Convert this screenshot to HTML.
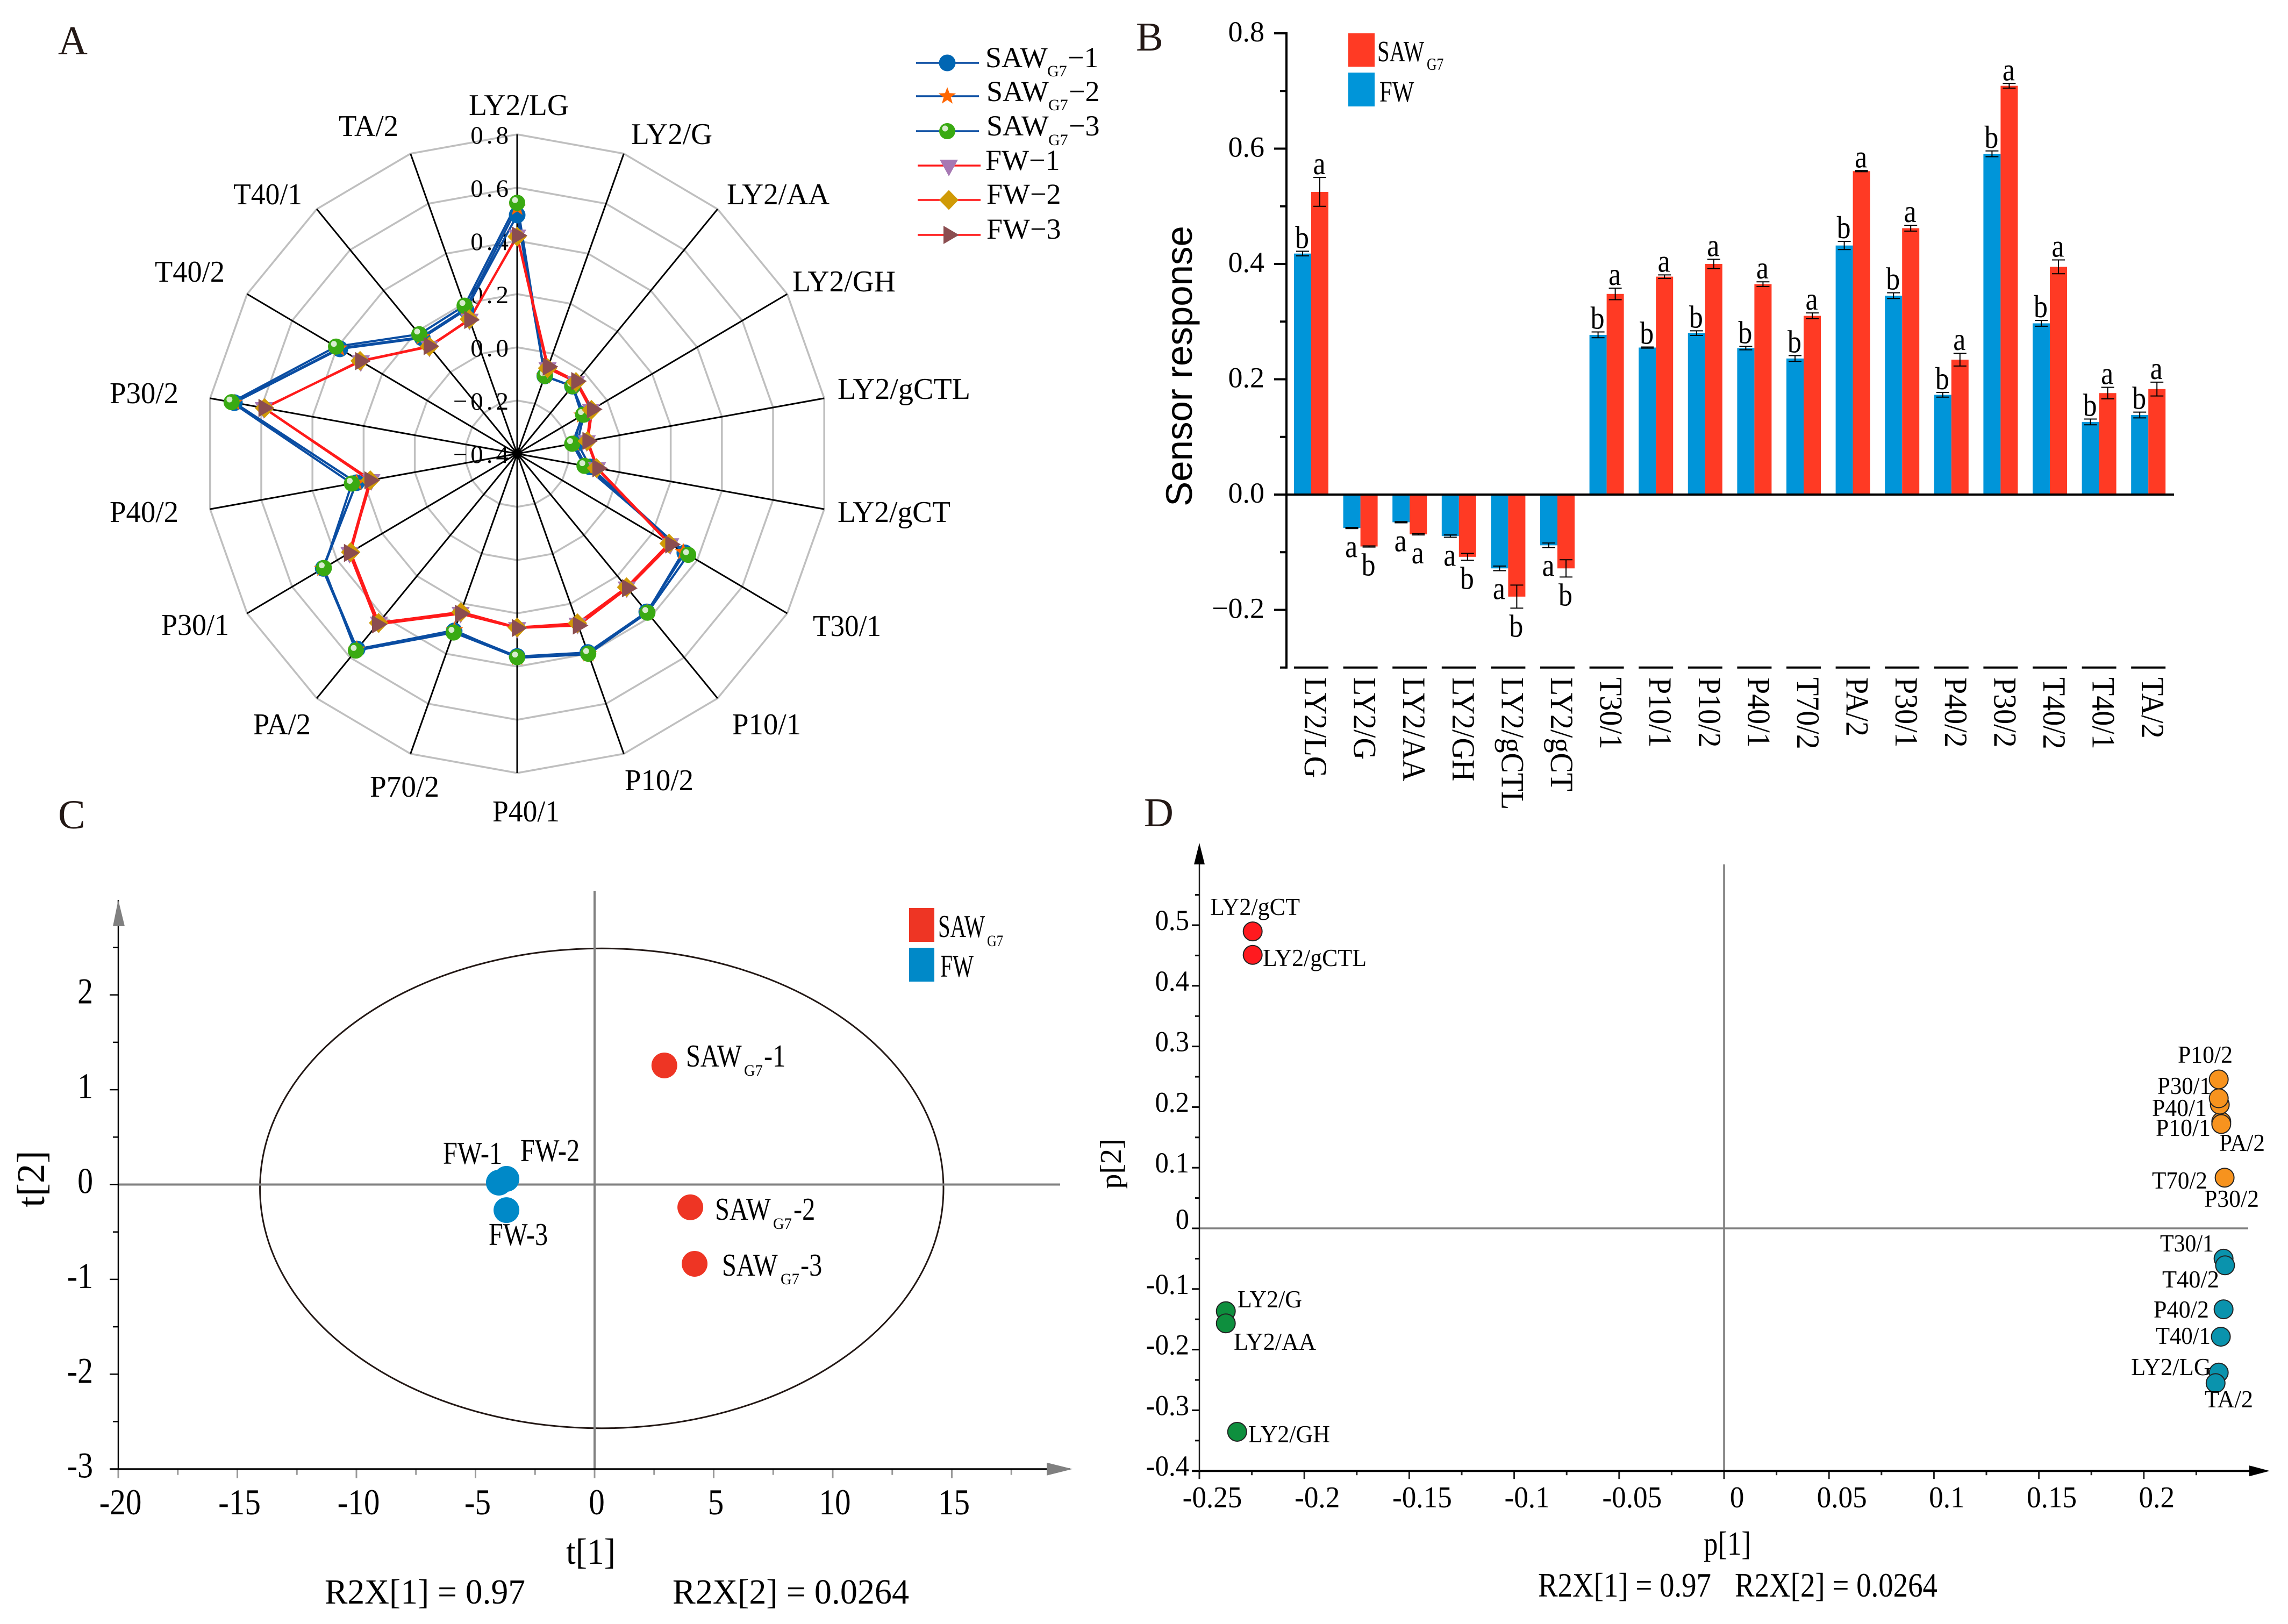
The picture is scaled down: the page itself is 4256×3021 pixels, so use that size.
<!DOCTYPE html>
<html lang="en">
<head>
<meta charset="utf-8">
<title>Sensor response figure</title>
<style>
html,body{margin:0;padding:0;background:#fff;}
svg{display:block;}
text{font-family:"Liberation Serif",serif;fill:#000;}
.panel{font-size:76px;fill:#231815;}
.rl{font-size:56px;}
.lg{font-size:54px;}
.dl{font-size:45px;}
.cl{font-size:59px;}
.sub{font-size:30px;}
</style>
</head>
<body>
<svg id="fig" xmlns="http://www.w3.org/2000/svg" width="4256" height="3021" viewBox="0 0 4256 3021">
<rect width="4256" height="3021" fill="#fff"/>

<text class="panel" x="108" y="101">A</text>
<text class="panel" x="2113" y="94">B</text>
<text class="panel" x="108" y="1541">C</text>
<text class="panel" x="2128" y="1537">D</text>

<g id="radar"></g>
<g>
<text class="rl" x="872" y="214" textLength="186" lengthAdjust="spacingAndGlyphs">LY2/LG</text>
<text class="rl" x="1174" y="268" textLength="151" lengthAdjust="spacingAndGlyphs">LY2/G</text>
<text class="rl" x="1352" y="380" textLength="191" lengthAdjust="spacingAndGlyphs">LY2/AA</text>
<text class="rl" x="1474" y="542" textLength="192" lengthAdjust="spacingAndGlyphs">LY2/GH</text>
<text class="rl" x="1558" y="742" textLength="247" lengthAdjust="spacingAndGlyphs">LY2/gCTL</text>
<text class="rl" x="1558" y="971" textLength="210" lengthAdjust="spacingAndGlyphs">LY2/gCT</text>
<text class="rl" x="1512" y="1183" textLength="127" lengthAdjust="spacingAndGlyphs">T30/1</text>
<text class="rl" x="1362" y="1366" textLength="128" lengthAdjust="spacingAndGlyphs">P10/1</text>
<text class="rl" x="1162" y="1470" textLength="128" lengthAdjust="spacingAndGlyphs">P10/2</text>
<text class="rl" x="916" y="1528" textLength="125" lengthAdjust="spacingAndGlyphs">P40/1</text>
<text class="rl" x="688" y="1482" textLength="129" lengthAdjust="spacingAndGlyphs">P70/2</text>
<text class="rl" x="471" y="1366" textLength="107" lengthAdjust="spacingAndGlyphs">PA/2</text>
<text class="rl" x="300" y="1181" textLength="126" lengthAdjust="spacingAndGlyphs">P30/1</text>
<text class="rl" x="204" y="971" textLength="128" lengthAdjust="spacingAndGlyphs">P40/2</text>
<text class="rl" x="204" y="750" textLength="128" lengthAdjust="spacingAndGlyphs">P30/2</text>
<text class="rl" x="288" y="524" textLength="130" lengthAdjust="spacingAndGlyphs">T40/2</text>
<text class="rl" x="434" y="380" textLength="128" lengthAdjust="spacingAndGlyphs">T40/1</text>
<text class="rl" x="630" y="253" textLength="111" lengthAdjust="spacingAndGlyphs">TA/2</text>
</g>

<g id="radar-legend">
<g>
<text class="lg" x="1833" y="125">SAW</text><text class="sub" x="1948" y="142">G7</text><text class="lg" x="1986" y="125">−1</text>
</g>
<g>
<text class="lg" x="1835" y="188">SAW</text><text class="sub" x="1950" y="205">G7</text><text class="lg" x="1988" y="188">−2</text>
</g>
<g>
<text class="lg" x="1835" y="252">SAW</text><text class="sub" x="1950" y="270">G7</text><text class="lg" x="1988" y="252">−3</text>
</g>
<text class="lg" x="1833" y="316">FW−1</text>
<text class="lg" x="1835" y="379">FW−2</text>
<text class="lg" x="1835" y="444">FW−3</text>
</g>

<g id="bars"></g>
<text transform="translate(2217,681) rotate(-90)" text-anchor="middle" style="font-family:'Liberation Sans',sans-serif;font-size:69px">Sensor response</text>
<g>
<rect x="2508" y="62" width="49" height="62" fill="#ff3a24"/>
<rect x="2508" y="135" width="49" height="63" fill="#0095d9"/>
<text transform="translate(2562,114) scale(.74,1)" style="font-size:55px">SAW</text>
<text transform="translate(2654,130) scale(.8,1)" style="font-size:32px">G7</text>
<text transform="translate(2566,189) scale(.78,1)" style="font-size:55px">FW</text>
</g>

<g id="scoreC"></g>
<g>
<rect x="1691" y="1689" width="47" height="63" fill="#ee3524"/>
<rect x="1691" y="1763" width="47" height="63" fill="#0089c8"/>
<text transform="translate(1745,1743) scale(.69,1)" class="cl">SAW</text>
<text transform="translate(1836,1760) scale(.82,1)" class="sub">G7</text>
<text transform="translate(1749,1817) scale(.7,1)" class="cl">FW</text>
</g>
<g>
<text transform="translate(1276,1984) scale(.82,1)" class="cl">SAW</text><text transform="translate(1384,2001) scale(.95,1)" class="sub">G7</text><text transform="translate(1421,1984) scale(.82,1)" class="cl">-1</text>
<text transform="translate(1330,2269) scale(.82,1)" class="cl">SAW</text><text transform="translate(1438,2286) scale(.95,1)" class="sub">G7</text><text transform="translate(1476,2269) scale(.82,1)" class="cl">-2</text>
<text transform="translate(1343,2373) scale(.82,1)" class="cl">SAW</text><text transform="translate(1452,2389) scale(.95,1)" class="sub">G7</text><text transform="translate(1489,2373) scale(.82,1)" class="cl">-3</text>
<text transform="translate(824,2165) scale(.82,1)" class="cl">FW-1</text>
<text transform="translate(968,2160) scale(.82,1)" class="cl">FW-2</text>
<text transform="translate(909,2316) scale(.82,1)" class="cl">FW-3</text>
</g>
<text x="1053" y="2909" style="font-size:68px" textLength="92" lengthAdjust="spacingAndGlyphs">t[1]</text>
<text transform="translate(82,2193) rotate(-90)" text-anchor="middle" style="font-size:73px">t[2]</text>
<text x="604" y="2983" style="font-size:66px" textLength="373" lengthAdjust="spacingAndGlyphs">R2X[1] = 0.97</text>
<text x="1251" y="2983" style="font-size:66px" textLength="440" lengthAdjust="spacingAndGlyphs">R2X[2] = 0.0264</text>

<g id="loadD"></g>
<g>
<text class="dl" x="2251" y="1702" textLength="167" lengthAdjust="spacingAndGlyphs">LY2/gCT</text>
<text class="dl" x="2349" y="1797" textLength="193" lengthAdjust="spacingAndGlyphs">LY2/gCTL</text>
<text class="dl" x="2302" y="2432" textLength="120" lengthAdjust="spacingAndGlyphs">LY2/G</text>
<text class="dl" x="2295" y="2511" textLength="153" lengthAdjust="spacingAndGlyphs">LY2/AA</text>
<text class="dl" x="2322" y="2683" textLength="152" lengthAdjust="spacingAndGlyphs">LY2/GH</text>
<text class="dl" x="4051" y="1977" textLength="102" lengthAdjust="spacingAndGlyphs">P10/2</text>
<text class="dl" x="4013" y="2035" textLength="100" lengthAdjust="spacingAndGlyphs">P30/1</text>
<text class="dl" x="4003" y="2076" textLength="102" lengthAdjust="spacingAndGlyphs">P40/1</text>
<text class="dl" x="4010" y="2113" textLength="102" lengthAdjust="spacingAndGlyphs">P10/1</text>
<text class="dl" x="4128" y="2141" textLength="85" lengthAdjust="spacingAndGlyphs">PA/2</text>
<text class="dl" x="4003" y="2211" textLength="103" lengthAdjust="spacingAndGlyphs">T70/2</text>
<text class="dl" x="4100" y="2245" textLength="102" lengthAdjust="spacingAndGlyphs">P30/2</text>
<text class="dl" x="4018" y="2328" textLength="100" lengthAdjust="spacingAndGlyphs">T30/1</text>
<text class="dl" x="4022" y="2395" textLength="106" lengthAdjust="spacingAndGlyphs">T40/2</text>
<text class="dl" x="4006" y="2451" textLength="103" lengthAdjust="spacingAndGlyphs">P40/2</text>
<text class="dl" x="4010" y="2500" textLength="102" lengthAdjust="spacingAndGlyphs">T40/1</text>
<text class="dl" x="3964" y="2558" textLength="149" lengthAdjust="spacingAndGlyphs">LY2/LG</text>
<text class="dl" x="4101" y="2618" textLength="90" lengthAdjust="spacingAndGlyphs">TA/2</text>
</g>
<text x="3169" y="2892" style="font-size:62px" textLength="88" lengthAdjust="spacingAndGlyphs">p[1]</text>
<text transform="translate(2085,2165) rotate(-90)" text-anchor="middle" style="font-size:56px">p[2]</text>
<text x="2861" y="2970" style="font-size:63px" textLength="322" lengthAdjust="spacingAndGlyphs">R2X[1] = 0.97</text>
<text x="3227" y="2970" style="font-size:63px" textLength="377" lengthAdjust="spacingAndGlyphs">R2X[2] = 0.0264</text>
</svg>

<script>
// ---------- Radar data (panel A) ----------
const radarAxisCount = 18;
const radarTicks = [-0.4, -0.2, 0, 0.2, 0.4, 0.6, 0.8];
const radarTickLabels = ['−0.4', '−0.2', '0.0', '0.2', '0.4', '0.6', '0.8'];
const saw1 = [.497,-.089,-.069,-.103,-.165,-.115,.345,.376,.395,.362,.309,.558,.462,.228,.705,.388,.168,.176];
const saw2 = [.525,-.09,-.069,-.112,-.178,-.13,.338,.378,.402,.367,.306,.56,.465,.228,.706,.392,.172,.18];
const saw3 = [.543,-.089,-.069,-.107,-.185,-.137,.36,.38,.40,.365,.315,.566,.459,.246,.716,.405,.186,.192];
const fw1 = [.42,-.058,-.048,-.072,-.128,-.088,.28,.256,.28,.255,.236,.428,.345,.17,.59,.295,.125,.136];
const fw2 = [.416,-.058,-.048,-.07,-.126,-.09,.275,.255,.278,.253,.233,.43,.34,.174,.587,.298,.126,.138];
const fw3 = [.42,-.052,-.044,-.066,-.124,-.085,.282,.26,.287,.255,.24,.437,.346,.176,.59,.296,.128,.135];

// ---------- Bar data (panel B) ----------
const barCategories = ['LY2/LG','LY2/G','LY2/AA','LY2/GH','LY2/gCTL','LY2/gCT','T30/1','P10/1','P10/2','P40/1','T70/2','PA/2','P30/1','P40/2','P30/2','T40/2','T40/1','TA/2'];
const fwBar = [.418,-.058,-.048,-.072,-.128,-.088,.277,.255,.28,.254,.236,.432,.345,.173,.591,.297,.126,.138];
const sawBar = [.525,-.09,-.069,-.108,-.177,-.128,.348,.378,.40,.365,.31,.561,.462,.234,.709,.395,.176,.183];
const fwErr = [.004,.001,.001,.002,.004,.004,.005,.001,.004,.003,.005,.007,.005,.004,.005,.005,.005,.005];
const sawErr = [.025,.001,.001,.006,.02,.015,.01,.003,.008,.004,.005,.001,.005,.011,.004,.012,.01,.012];
const fwLetters = ['b','a','a','a','a','a','b','b','b','b','b','b','b','b','b','b','b','b'];
const sawLetters = ['a','b','a','b','b','b','a','a','a','a','a','a','a','a','a','a','a','a'];
const barTicks = [-0.2, 0, 0.2, 0.4, 0.6, 0.8];
const barTickLabels = ['−0.2','0.0','0.2','0.4','0.6','0.8'];
const barMinorTicks = [-0.3, -0.1, 0.1, 0.3, 0.5, 0.7];

// ---------- Score data (panel C) ----------
const scoreSawX = [2.93, 4.02, 4.2];
const scoreSawY = [1.256, -.24, -.836];
const scoreFwX = [-4.02, -3.7, -3.7];
const scoreFwY = [.02, .06, -.27];
const ellipseCenter = [0.3, -0.04];
const ellipseRadii = [14.35, 2.53];
const scoreXTicks = [-20,-15,-10,-5,0,5,10,15];
const scoreXMinor = [-17.5,-12.5,-7.5,-2.5,2.5,7.5,12.5,17.5];
const scoreYTicks = [-3,-2,-1,0,1,2];
const scoreYMinor = [-2.5,-1.5,-.5,.5,1.5,2.5];

// ---------- Loading data (panel D) ----------
const loadRedX = [-.2246,-.2246];
const loadRedY = [.4897,.451];
const loadGreenX = [-.2374,-.2374,-.232];
const loadGreenY = [-.1366,-.1567,-.3355];
const loadOrangeX = [.2369,.2369,.2385,.2362,.2357,.2357];
const loadOrangeY = [.176,.172,.0836,.204,.2145,.2456];
const loadTealX = [.238,.2387,.238,.2367,.2357,.2342];
const loadTealY = [-.05,-.061,-.1335,-.1787,-.2378,-.2552];
const loadXTicks = [-.25,-.2,-.15,-.1,-.05,0,.05,.1,.15,.2];
const loadXLabels = ['-0.25','-0.2','-0.15','-0.1','-0.05','0','0.05','0.1','0.15','0.2'];
const loadXMinor = [-.225,-.175,-.125,-.075,-.025,.025,.075,.125,.175,.225];
const loadYTicks = [-.4,-.3,-.2,-.1,0,.1,.2,.3,.4,.5];
const loadYLabels = ['-0.4','-0.3','-0.2','-0.1','0','0.1','0.2','0.3','0.4','0.5'];
const loadYMinor = [-.35,-.25,-.15,-.05,.05,.15,.25,.35,.45,.55];

const NS = 'http://www.w3.org/2000/svg';
function mk(parent, tag, attrs, txt) {
  const e = document.createElementNS(NS, tag);
  for (const k in attrs) e.setAttribute(k, attrs[k]);
  if (txt !== undefined) e.textContent = txt;
  parent.appendChild(e);
  return e;
}

// ---------- Panel A ----------
(function () {
  const g = document.getElementById('radar');
  const cx = 962, cy = 844, Rx = 580, Ry = 594;
  const frac = v => (v - radarTicks[0]) / (radarTicks[radarTicks.length - 1] - radarTicks[0]);
  const px = (i, v) => cx + Rx * frac(v) * Math.sin(i * 2 * Math.PI / radarAxisCount);
  const py = (i, v) => cy - Ry * frac(v) * Math.cos(i * 2 * Math.PI / radarAxisCount);

  radarTicks.slice(1).forEach(t => {
    const pts = [];
    for (let i = 0; i < radarAxisCount; i++) pts.push(px(i, t).toFixed(1) + ',' + py(i, t).toFixed(1));
    const ring = mk(g, 'polygon', {points: pts.join(' '), fill: 'none', stroke: '#bfbfbf', 'stroke-width': 3.5});
    
    
  });
  radarTicks.forEach((t, k) => {
    const lab = mk(g, 'text', {x: 952, y: py(0, t) + 17, 'text-anchor': 'end', 'font-size': 47, 'letter-spacing': 6}, radarTickLabels[k]);
    
    
  });
  for (let i = 0; i < radarAxisCount; i++) {
    const sp = mk(g, 'line', {x1: cx, y1: cy, x2: px(i, .8), y2: py(i, .8), stroke: '#000', 'stroke-width': 3});
    
    
  }

  function marker(parent, kind, x, y) {
    let m;
    if (kind === 'circle') m = mk(parent, 'circle', {cx: x, cy: y, r: 15.5, fill: '#0066b3'});
    if (kind === 'star') {
      const p = [];
      for (let k = 0; k < 10; k++) {
        const r = k % 2 ? 7 : 17, a = k * Math.PI / 5;
        p.push((x + r * Math.sin(a)).toFixed(1) + ',' + (y - r * Math.cos(a)).toFixed(1));
      }
      m = mk(parent, 'polygon', {points: p.join(' '), fill: '#ff6600'});
    }
    if (kind === 'ball') {
      m = mk(parent, 'g', {});
      mk(m, 'circle', {cx: x, cy: y, r: 15, fill: '#39aa12'});
      mk(m, 'circle', {cx: x - 4, cy: y - 5, r: 5.5, fill: '#d8eccf'});
    }
    if (kind === 'down') m = mk(parent, 'polygon', {points: `${x-17},${y-11} ${x+17},${y-11} ${x},${y+20}`, fill: '#a678b3'});
    if (kind === 'diamond') m = mk(parent, 'polygon', {points: `${x-18},${y} ${x},${y-18.5} ${x+18},${y} ${x},${y+18.5}`, fill: '#d09a06'});
    if (kind === 'right') m = mk(parent, 'polygon', {points: `${x-10},${y-17} ${x+19},${y} ${x-10},${y+17}`, fill: '#8b4d50'});
    return m;
  }

  const series = [
    {name: 'saw-1', vals: saw1, color: '#0a4da2', kind: 'circle'},
    {name: 'saw-2', vals: saw2, color: '#0a4da2', kind: 'star'},
    {name: 'saw-3', vals: saw3, color: '#0a4da2', kind: 'ball'},
    {name: 'fw-1', vals: fw1, color: '#ff1a1a', kind: 'down'},
    {name: 'fw-2', vals: fw2, color: '#ff1a1a', kind: 'diamond'},
    {name: 'fw-3', vals: fw3, color: '#ff1a1a', kind: 'right'}
  ];
  series.forEach(s => {
    const pts = s.vals.map((v, i) => px(i, v).toFixed(1) + ',' + py(i, v).toFixed(1)).join(' ');
    const line = mk(g, 'polygon', {points: pts, fill: 'none', stroke: s.color, 'stroke-width': 4, 'stroke-linejoin': 'round'});
    
    
  });
  series.forEach(s => {
    s.vals.forEach((v, i) => {
      const m = marker(g, s.kind, px(i, v), py(i, v));
      
      
    });
  });

  // legend glyphs
  const lg = document.getElementById('radar-legend');
  const legendRows = [117, 179, 244, 308, 372, 437];
  series.forEach((s, i) => {
    const off = i < 3 ? 0 : 3;
    const ll = mk(lg, 'line', {x1: 1704 + off, x2: 1821 + off, y1: legendRows[i], y2: legendRows[i], stroke: s.color, 'stroke-width': 3.5});
    
    
    const m = marker(lg, s.kind, 1762 + off, legendRows[i]);
    
    
  });
})();

// ---------- Panel B ----------
(function () {
  const g = document.getElementById('bars');
  const yB = v => 920 - v * 1072.5;
  const xB = i => 2439 + i * 91.6;
  const w = 32;
  function bar(i, v, err, x, color, name, letter) {
    const top = Math.min(yB(v), yB(0));
    const r = mk(g, 'rect', {x: x, y: top, width: w, height: Math.abs(yB(v) - yB(0)), fill: color});
    
    
    const ex = x + w / 2;
    const e = mk(g, 'path', {d: `M${ex-12} ${yB(v+err)}H${ex+12}M${ex} ${yB(v+err)}V${yB(v-err)}M${ex-12} ${yB(v-err)}H${ex+12}`, stroke: '#000', 'stroke-width': 2, fill: 'none'});
    
    
    const ly = v >= 0 ? yB(v + err) - 6 : yB(v - err) + 53;
    const t = mk(g, 'text', {transform: `translate(${ex-1},${ly}) scale(.88,1)`, 'text-anchor': 'middle', 'font-size': 59}, letter);
    
    
  }
  barCategories.forEach((c, i) => {
    bar(i, fwBar[i], fwErr[i], xB(i) - w, '#0095d9', 'fw', fwLetters[i]);
    bar(i, sawBar[i], sawErr[i], xB(i), '#ff3a24', 'saw', sawLetters[i]);
    const seg = mk(g, 'line', {x1: xB(i) - w, x2: xB(i) + w, y1: yB(-.3), y2: yB(-.3), stroke: '#000', 'stroke-width': 4});
    
    
    const lab = mk(g, 'text', {transform: `translate(${xB(i) - 12},1260) rotate(90) scale(1,1.08)`, 'font-size': 56}, c);
    
    
  });
  const ax = mk(g, 'line', {x1: 2393, x2: 2393, y1: yB(.8) - 2, y2: yB(-.3) + 2, stroke: '#000', 'stroke-width': 4});
  
  
  const zero = mk(g, 'line', {x1: 2393, x2: 4044, y1: yB(0), y2: yB(0), stroke: '#000', 'stroke-width': 4});
  
  
  barTicks.forEach((t, k) => {
    const tk = mk(g, 'line', {x1: 2370, x2: 2393, y1: yB(t), y2: yB(t), stroke: '#000', 'stroke-width': 4});
    
    
    const lab = mk(g, 'text', {x: 2352, y: yB(t) + 15, 'text-anchor': 'end', 'font-size': 54}, barTickLabels[k]);
    
    
  });
  barMinorTicks.forEach(t => {
    const tk = mk(g, 'line', {x1: 2381, x2: 2393, y1: yB(t), y2: yB(t), stroke: '#000', 'stroke-width': 4});
    
    
  });
})();

// ---------- Panel C ----------
(function () {
  const g = document.getElementById('scoreC');
  const xC = v => 1106 + 44.3 * v;
  const yC = v => 2203.5 - 176.4 * v;
  const base = yC(-3), left = xC(-20);

  const el = mk(g, 'ellipse', {cx: xC(ellipseCenter[0]), cy: yC(ellipseCenter[1]), rx: ellipseRadii[0] * 44.3, ry: ellipseRadii[1] * 176.4, fill: 'none', stroke: '#231815', 'stroke-width': 3});
  
  

  const h = mk(g, 'line', {x1: left, x2: 1972, y1: yC(0), y2: yC(0), stroke: '#808080', 'stroke-width': 4});
  
  
  const v = mk(g, 'line', {x1: xC(0), x2: xC(0), y1: 1657, y2: base, stroke: '#808080', 'stroke-width': 4});
  
  

  scoreXTicks.forEach(t => {
    const tk = mk(g, 'line', {x1: xC(t), x2: xC(t), y1: base, y2: base + 17, stroke: '#999', 'stroke-width': 3});
    
    
    const lab = mk(g, 'text', {transform: `translate(${xC(t) + 4},2817) scale(.87,1)`, 'text-anchor': 'middle', 'font-size': 68}, String(t));
    
    
  });
  scoreXMinor.forEach(t => {
    const tk = mk(g, 'line', {x1: xC(t), x2: xC(t), y1: base, y2: base + 11, stroke: '#999', 'stroke-width': 3});
    
    
  });
  scoreYTicks.forEach(t => {
    const tk = mk(g, 'line', {x1: left - 16, x2: left, y1: yC(t), y2: yC(t), stroke: '#000', 'stroke-width': 2.5});
    
    
    const lab = mk(g, 'text', {transform: `translate(173,${yC(t) + 16}) scale(.85,1)`, 'text-anchor': 'end', 'font-size': 68}, String(t));
    
    
  });
  scoreYMinor.forEach(t => {
    const tk = mk(g, 'line', {x1: left - 10, x2: left, y1: yC(t), y2: yC(t), stroke: '#000', 'stroke-width': 2.5});
    
    
  });
  const xa = mk(g, 'line', {x1: left - 16, x2: 1990, y1: base, y2: base, stroke: '#000', 'stroke-width': 3});
  
  
  const ya = mk(g, 'line', {x1: left, x2: left, y1: 1674, y2: base, stroke: '#000', 'stroke-width': 2.5});
  
  
  const ua = mk(g, 'polygon', {points: `${left},1674 ${left+12},1723 ${left-10},1723`, fill: '#808080'});
  
  
  const ra = mk(g, 'polygon', {points: `1995,${base} 1947,${base-12} 1947,${base+12}`, fill: '#808080'});
  
  

  scoreSawX.forEach((x, i) => {
    const c = mk(g, 'circle', {cx: xC(x), cy: yC(scoreSawY[i]), r: 24, fill: '#ee3524'});
    
    
  });
  scoreFwX.forEach((x, i) => {
    const c = mk(g, 'circle', {cx: xC(x), cy: yC(scoreFwY[i]), r: 24, fill: '#0089c8'});
    
    
  });
})();

// ---------- Panel D ----------
(function () {
  const g = document.getElementById('loadD');
  const xD = v => 3207 + 3904 * v;
  const yD = v => 2285 - 1128 * v;
  const base = yD(-.4), left = xD(-.25);

  const h = mk(g, 'line', {x1: left, x2: 4182, y1: yD(0), y2: yD(0), stroke: '#808080', 'stroke-width': 3.5});
  
  
  const v = mk(g, 'line', {x1: xD(0), x2: xD(0), y1: 1608, y2: base, stroke: '#808080', 'stroke-width': 3.5});
  
  

  loadXTicks.forEach((t, k) => {
    const tk = mk(g, 'line', {x1: xD(t), x2: xD(t), y1: base, y2: base + 15, stroke: '#222', 'stroke-width': 3});
    
    
    const lab = mk(g, 'text', {transform: `translate(${xD(t) + 24},2804) scale(.95,1)`, 'text-anchor': 'middle', 'font-size': 56}, loadXLabels[k]);
    
    
  });
  loadXMinor.forEach(t => {
    const tk = mk(g, 'line', {x1: xD(t), x2: xD(t), y1: base, y2: base + 8, stroke: '#222', 'stroke-width': 3});
    
    
  });
  loadYTicks.forEach((t, k) => {
    const tk = mk(g, 'line', {x1: left - 14, x2: left, y1: yD(t), y2: yD(t), stroke: '#000', 'stroke-width': 3});
    
    
    const lab = mk(g, 'text', {transform: `translate(2212,${yD(t) + (t === 0 ? 1 : 9)}) scale(.94,1)`, 'text-anchor': 'end', 'font-size': 54}, loadYLabels[k]);
    
    
  });
  loadYMinor.forEach(t => {
    const tk = mk(g, 'line', {x1: left - 8, x2: left, y1: yD(t), y2: yD(t), stroke: '#000', 'stroke-width': 3});
    
    
  });
  const xa = mk(g, 'line', {x1: left - 14, x2: 4190, y1: base, y2: base, stroke: '#000', 'stroke-width': 4});
  
  
  const ya = mk(g, 'line', {x1: left, x2: left, y1: 1600, y2: base, stroke: '#222', 'stroke-width': 2.5});
  
  
  const ua = mk(g, 'polygon', {points: `${left},1568 ${left+10},1608 ${left-10},1608`, fill: '#000'});
  
  
  const ra = mk(g, 'polygon', {points: `4222,${base} 4184,${base-10} 4184,${base+10}`, fill: '#000'});
  
  

  const groups = [
    {name: 'red', xs: loadRedX, ys: loadRedY, fill: '#ff1a1f'},
    {name: 'green', xs: loadGreenX, ys: loadGreenY, fill: '#0e8f3e'},
    {name: 'orange', xs: loadOrangeX, ys: loadOrangeY, fill: '#f7931e'},
    {name: 'teal', xs: loadTealX, ys: loadTealY, fill: '#0a93ad'}
  ];
  groups.forEach(gr => {
    gr.xs.forEach((x, i) => {
      const c = mk(g, 'circle', {cx: xD(x), cy: yD(gr.ys[i]), r: 17.5, fill: gr.fill, stroke: '#222', 'stroke-width': 2});
      
      
    });
  });
})();
</script>
</body>
</html>
